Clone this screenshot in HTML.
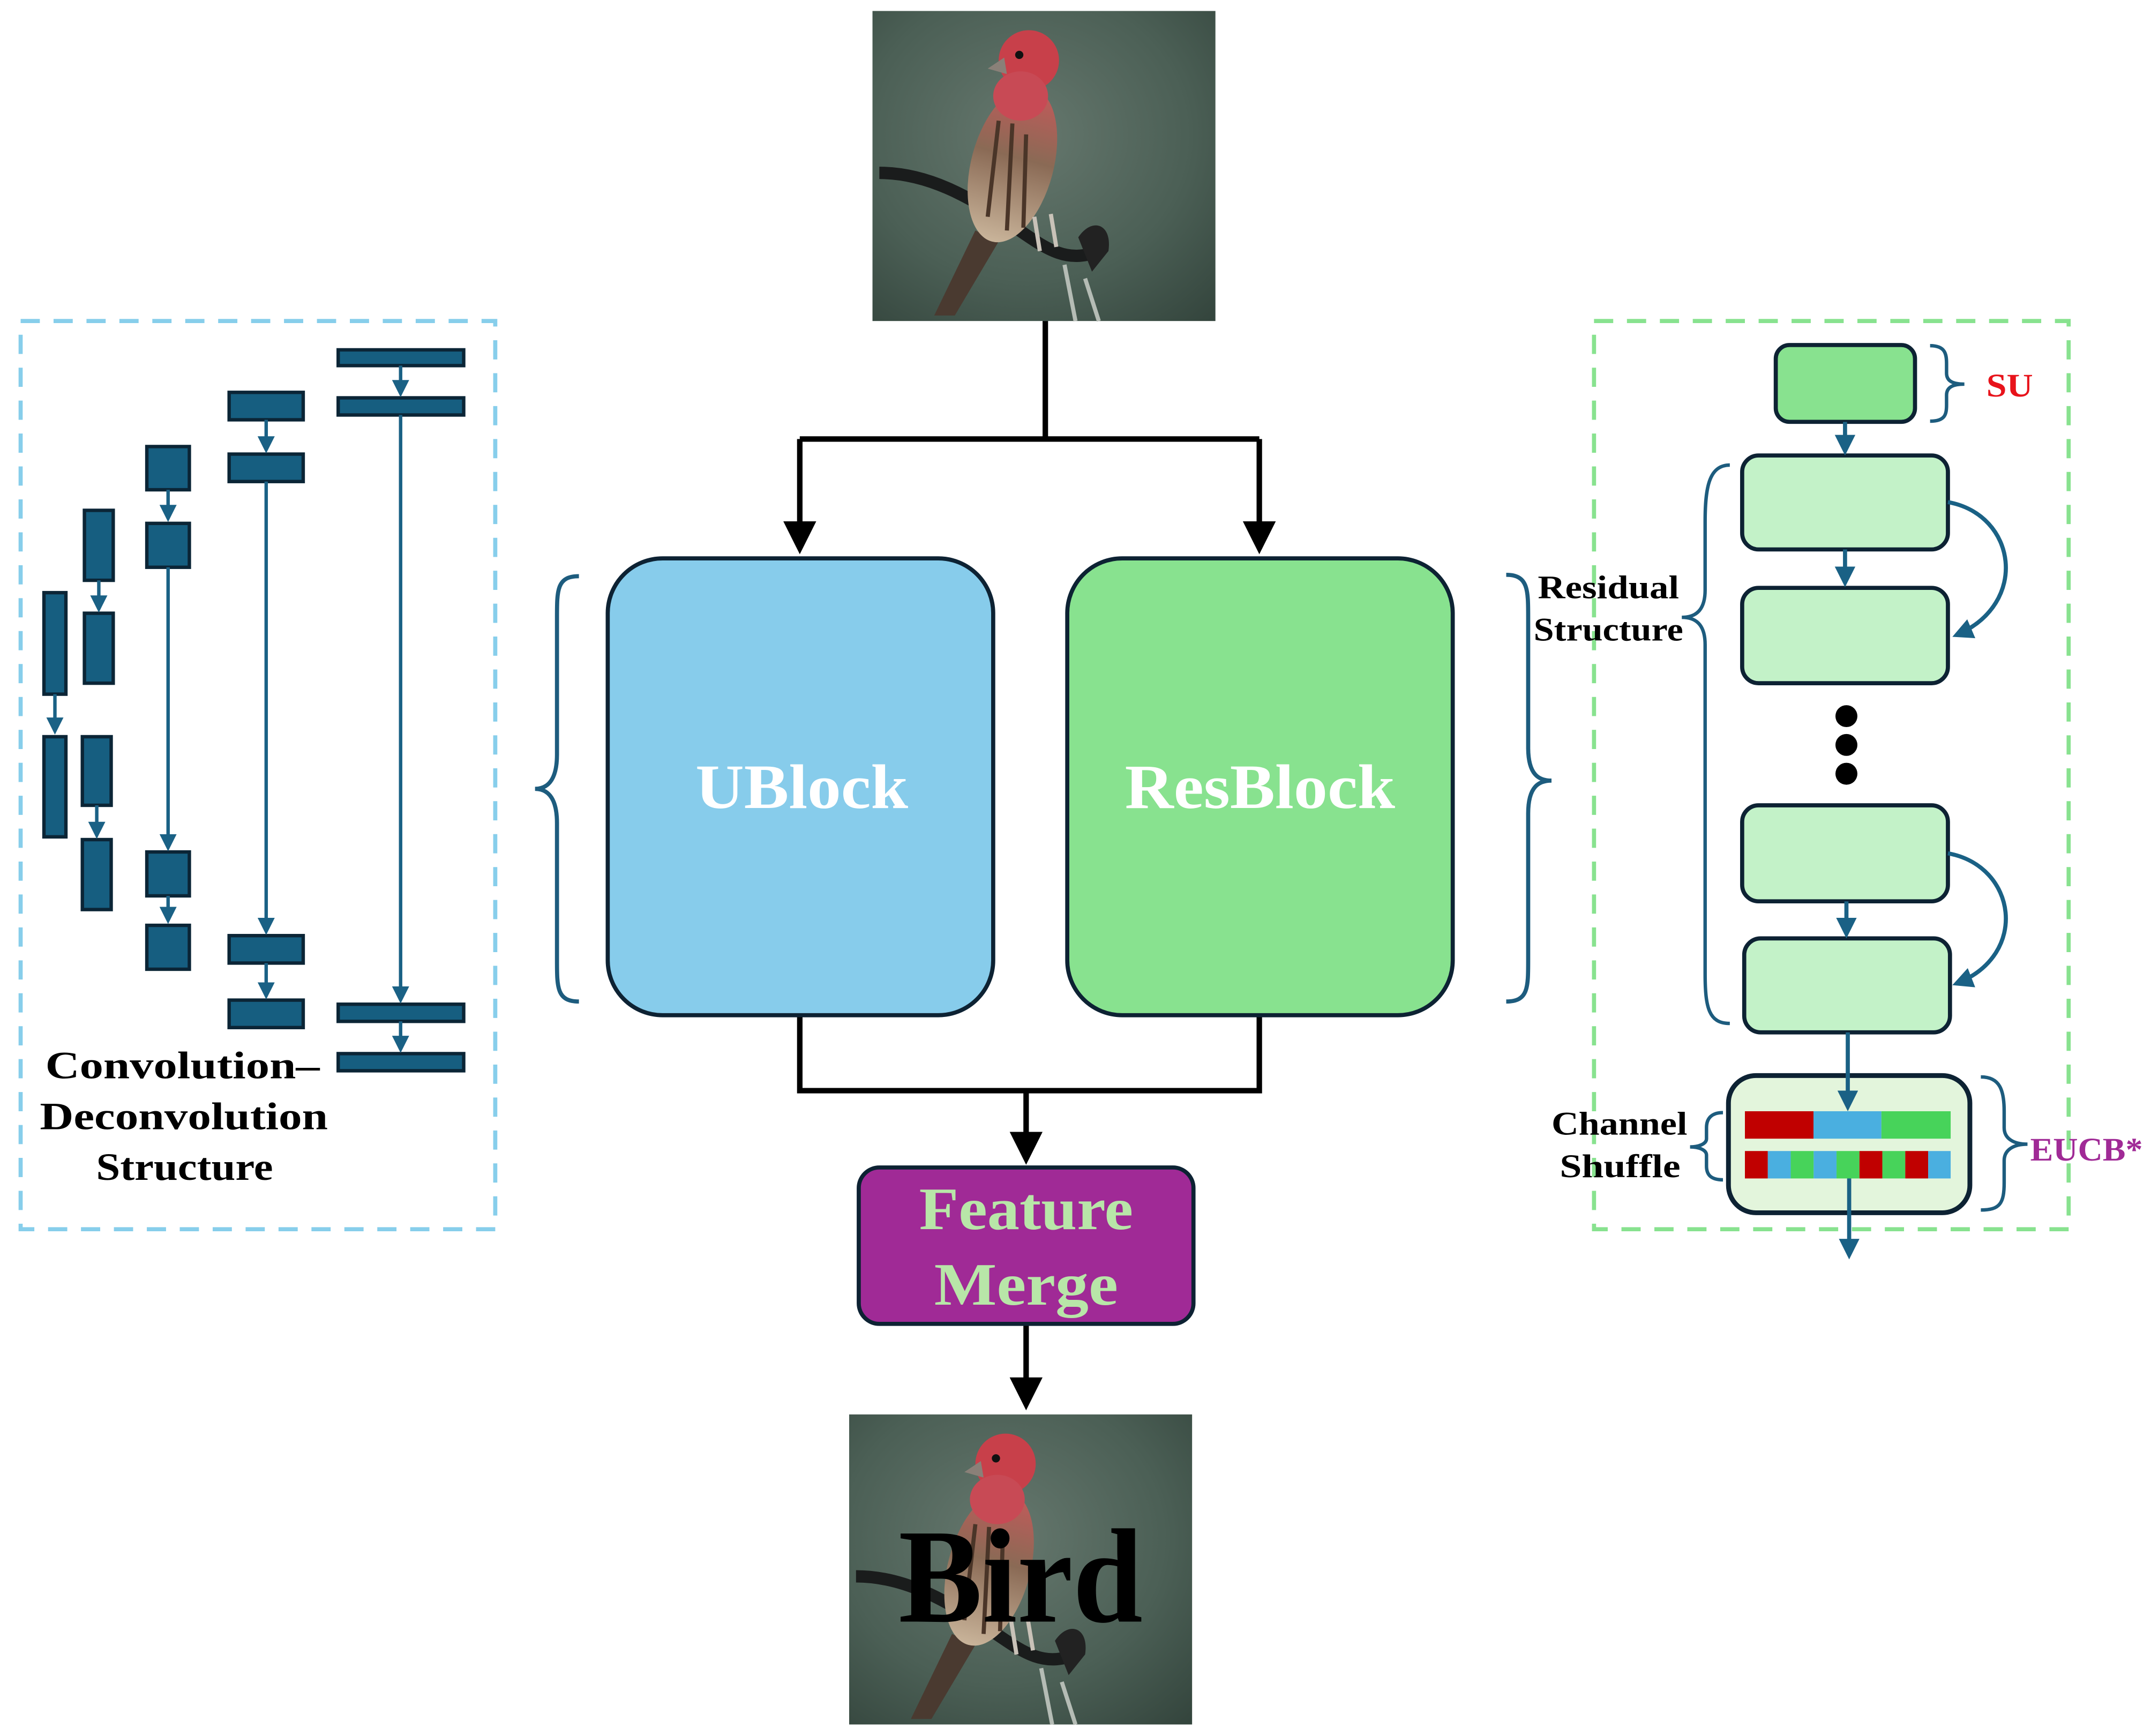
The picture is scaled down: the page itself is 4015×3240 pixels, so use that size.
<!DOCTYPE html>
<html><head><meta charset="utf-8"><style>
html,body{margin:0;padding:0;background:#fff;}
svg{display:block;}
text{font-family:"Liberation Serif",serif;font-weight:bold;}
</style></head><body>
<svg width="4015" height="3240" viewBox="0 0 1568 1265.4" xmlns="http://www.w3.org/2000/svg">
<defs>
<marker id="ab" markerWidth="6" markerHeight="6" refX="5" refY="3" orient="auto" markerUnits="strokeWidth"><path d="M0,0 L6,3 L0,6 z" fill="#000"/></marker>
<marker id="at" markerWidth="5" markerHeight="5" refX="4" refY="2.5" orient="auto" markerUnits="strokeWidth"><path d="M0,0 L5,2.5 L0,5 z" fill="#1a6185"/></marker>
<radialGradient id="bg" cx="0.45" cy="0.4" r="0.8"><stop offset="0" stop-color="#66786e"/><stop offset="0.6" stop-color="#4b5f55"/><stop offset="1" stop-color="#34453d"/></radialGradient>
<linearGradient id="bd" x1="0" y1="0" x2="0" y2="1"><stop offset="0" stop-color="#c25a5a"/><stop offset="0.45" stop-color="#8a6a55"/><stop offset="1" stop-color="#c9b49a"/></linearGradient>
<g id="photo">
<rect x="0" y="0" width="250" height="226" fill="url(#bg)"/>
<path d="M5,118 C40,118 70,135 100,155 C125,172 140,185 165,175" stroke="#1a1c1c" stroke-width="9" fill="none"/>
<path d="M150,165 C160,150 175,155 172,175 L160,190 Z" fill="#222"/>
<path d="M140,185 L148,226 M155,195 L165,226" stroke="#b5bcb5" stroke-width="3" fill="none"/>
<path d="M75,160 L45,222 L60,222 L92,168 Z" fill="#4a3a30"/>
<ellipse cx="102" cy="112" rx="30" ry="58" fill="url(#bd)" transform="rotate(15 102 112)"/>
<path d="M92,80 L84,150 M102,82 L98,160 M112,90 L110,158" stroke="#4a3528" stroke-width="3" fill="none"/>
<ellipse cx="114" cy="36" rx="22" ry="22" fill="#c8404a"/>
<ellipse cx="108" cy="62" rx="20" ry="18" fill="#c84a55"/>
<path d="M96,34 L84,42 L98,46 Z" fill="#8a8078"/>
<circle cx="107" cy="32" r="3" fill="#111"/>
<path d="M118,150 L122,175 M130,148 L134,172" stroke="#c9c2b8" stroke-width="3"/>
</g>
</defs>

<use href="#photo" x="636" y="8"/>
<use href="#photo" x="619" y="1031"/>
<text x="655" y="1182" font-size="98" fill="#000" textLength="178" lengthAdjust="spacingAndGlyphs">Bird</text>

<g stroke="#000" stroke-width="4" fill="none">
<path d="M762,234 V320 M583,320 H918"/>
<path d="M583,320 V400" marker-end="url(#ab)"/>
<path d="M918,320 V400" marker-end="url(#ab)"/>
<path d="M583,740 V795 H918 V740"/>
<path d="M748,795 V845" marker-end="url(#ab)"/>
<path d="M748,965 V1024" marker-end="url(#ab)"/>
</g>

<rect x="443" y="407" width="281" height="333" rx="40" fill="#87CCEB" stroke="#0d2233" stroke-width="3"/>
<text x="507" y="589" font-size="46" fill="#fff" textLength="155" lengthAdjust="spacingAndGlyphs">UBlock</text>
<rect x="778" y="407" width="281" height="333" rx="40" fill="#88E28F" stroke="#0d2233" stroke-width="3"/>
<text x="820" y="589" font-size="46" fill="#fff" textLength="197" lengthAdjust="spacingAndGlyphs">ResBlock</text>
<rect x="626" y="851" width="244" height="114" rx="15" fill="#A02A96" stroke="#0d2233" stroke-width="3"/>
<text x="670" y="896" font-size="44" fill="#B8E6A8" textLength="156" lengthAdjust="spacingAndGlyphs">Feature</text>
<text x="681" y="951" font-size="44" fill="#B8E6A8" textLength="134" lengthAdjust="spacingAndGlyphs">Merge</text>

<g stroke="#1d5c7e" stroke-width="3" fill="none">
<path d="M422,420 C406,420 406,430 406,450 L406,550 C406,570 398,575 390,575 C398,575 406,580 406,600 L406,700 C406,720 406,730 422,730"/>
<path d="M1098,419 C1114,419 1114,430 1114,450 L1114,545 C1114,565 1122,569 1131,569 C1122,569 1114,573 1114,593 L1114,700 C1114,720 1114,730 1098,730"/>
</g>

<rect x="15" y="234" width="346" height="662" fill="none" stroke="#87CEEB" stroke-width="3" stroke-dasharray="14,10"/>
<g fill="#165e80" stroke="#0b2536" stroke-width="2.5">
<rect x="32" y="432" width="16" height="74"/>
<rect x="32" y="537" width="16" height="73"/>
<rect x="61.5" y="372" width="21" height="51"/>
<rect x="61.5" y="447" width="21" height="51"/>
<rect x="60" y="537" width="21" height="50"/>
<rect x="60" y="612" width="21" height="51"/>
<rect x="107" y="325.5" width="31" height="31.5"/>
<rect x="107" y="381.5" width="31" height="32"/>
<rect x="107" y="621" width="31" height="32"/>
<rect x="107" y="674.5" width="31" height="32"/>
<rect x="167" y="286" width="54" height="20"/>
<rect x="167" y="331" width="54" height="20"/>
<rect x="167" y="682" width="54" height="20"/>
<rect x="167" y="729" width="54" height="20"/>
<rect x="246.5" y="255" width="91.5" height="11.5"/>
<rect x="246.5" y="290" width="91.5" height="12.5"/>
<rect x="246.5" y="732" width="91.5" height="12.5"/>
<rect x="246.5" y="768" width="91.5" height="12.5"/>
</g>
<g stroke="#1a6185" stroke-width="2.5" fill="none">
<path d="M40,506 V533" marker-end="url(#at)"/>
<path d="M72,423 V444" marker-end="url(#at)"/>
<path d="M70.5,587 V609" marker-end="url(#at)"/>
<path d="M122.5,357 V378" marker-end="url(#at)"/>
<path d="M122.5,413.5 V618" marker-end="url(#at)"/>
<path d="M122.5,653 V671" marker-end="url(#at)"/>
<path d="M194,306 V328" marker-end="url(#at)"/>
<path d="M194,351 V679" marker-end="url(#at)"/>
<path d="M194,702 V726" marker-end="url(#at)"/>
<path d="M292,266.5 V287" marker-end="url(#at)"/>
<path d="M292,302.5 V729" marker-end="url(#at)"/>
<path d="M292,744.5 V765" marker-end="url(#at)"/>
</g>
<text x="33" y="786" font-size="28" fill="#000" textLength="200" lengthAdjust="spacingAndGlyphs">Convolution–</text>
<text x="29" y="823" font-size="28" fill="#000" textLength="210" lengthAdjust="spacingAndGlyphs">Deconvolution</text>
<text x="70" y="860" font-size="28" fill="#000" textLength="129" lengthAdjust="spacingAndGlyphs">Structure</text>

<rect x="1162" y="234" width="346" height="662" fill="none" stroke="#88E28F" stroke-width="3" stroke-dasharray="14,10"/>
<rect x="1294.5" y="251.5" width="101.5" height="56" rx="10" fill="#88E28F" stroke="#0d2233" stroke-width="3"/>
<g fill="#C3F2C8" stroke="#0d2233" stroke-width="3">
<rect x="1270" y="332" width="150" height="68.5" rx="12"/>
<rect x="1270" y="428.5" width="150" height="69.5" rx="12"/>
<rect x="1270" y="587" width="150" height="70" rx="12"/>
<rect x="1271.5" y="684" width="150" height="68.5" rx="12"/>
</g>
<rect x="1260" y="784" width="176" height="100" rx="20" fill="#E3F5DC" stroke="#0d2233" stroke-width="3.5"/>
<g stroke="none">
<rect x="1272" y="810" width="50" height="20" fill="#C00000"/>
<rect x="1322" y="810" width="49.5" height="20" fill="#4AAFE0"/>
<rect x="1371.5" y="810" width="50.5" height="20" fill="#47D35A"/>
<rect x="1272" y="839" width="16.7" height="20" fill="#C00000"/>
<rect x="1288.7" y="839" width="16.7" height="20" fill="#4AAFE0"/>
<rect x="1305.4" y="839" width="16.7" height="20" fill="#47D35A"/>
<rect x="1322.1" y="839" width="16.7" height="20" fill="#4AAFE0"/>
<rect x="1338.8" y="839" width="16.7" height="20" fill="#47D35A"/>
<rect x="1355.5" y="839" width="16.7" height="20" fill="#C00000"/>
<rect x="1372.2" y="839" width="16.7" height="20" fill="#47D35A"/>
<rect x="1388.9" y="839" width="16.7" height="20" fill="#C00000"/>
<rect x="1405.6" y="839" width="16.4" height="20" fill="#4AAFE0"/>
</g>
<g stroke="#1a6185" stroke-width="3" fill="none">
<path d="M1345,307.5 V329" marker-end="url(#at)"/>
<path d="M1345,400.5 V425" marker-end="url(#at)"/>
<path d="M1346,657 V681" marker-end="url(#at)"/>
<path d="M1347,752.5 V807" marker-end="url(#at)"/>
<path d="M1348,859 V915" marker-end="url(#at)"/>
<path d="M1420,366 C1470,375 1480,440 1426,463" marker-end="url(#at)"/>
<path d="M1420,622 C1470,631 1480,696 1426,717" marker-end="url(#at)"/>
</g>
<circle cx="1346" cy="522" r="8" fill="#000"/>
<circle cx="1346" cy="543" r="8" fill="#000"/>
<circle cx="1346" cy="564" r="8" fill="#000"/>
<g stroke="#1d5c7e" stroke-width="2.5" fill="none">
<path d="M1407,252 C1418,252 1419,258 1419,265 L1419,272 C1419,278 1424,280 1432,280 C1424,280 1419,282 1419,288 L1419,295 C1419,302 1418,307 1407,307"/>
<path d="M1261,339 C1246,339 1243,355 1243,380 L1243,430 C1243,445 1236,450 1226,450 C1236,450 1243,455 1243,470 L1243,710 C1243,735 1246,746 1261,746"/>
<path d="M1256,811 C1248,811 1244,815 1244,822 L1244,830 C1244,834 1238,836 1232,836 C1238,836 1244,838 1244,842 L1244,850 C1244,857 1248,860 1256,860"/>
<path d="M1444,785 C1458,785 1461,795 1461,810 L1461,822 C1461,830 1468,834 1478,834 C1468,834 1461,838 1461,846 L1461,862 C1461,877 1458,882 1444,882"/>
</g>
<text x="1448" y="289" font-size="24" fill="#E8131B" textLength="34" lengthAdjust="spacingAndGlyphs">SU</text>
<text x="1121" y="436" font-size="24" fill="#000" textLength="103" lengthAdjust="spacingAndGlyphs">Residual</text>
<text x="1118" y="467" font-size="24" fill="#000" textLength="109" lengthAdjust="spacingAndGlyphs">Structure</text>
<text x="1131" y="827" font-size="24" fill="#000" textLength="99" lengthAdjust="spacingAndGlyphs">Channel</text>
<text x="1137" y="858" font-size="24" fill="#000" textLength="88" lengthAdjust="spacingAndGlyphs">Shuffle</text>
<text x="1480" y="846" font-size="24" fill="#A02A96" textLength="82" lengthAdjust="spacingAndGlyphs">EUCB*</text>
</svg>
</body></html>
